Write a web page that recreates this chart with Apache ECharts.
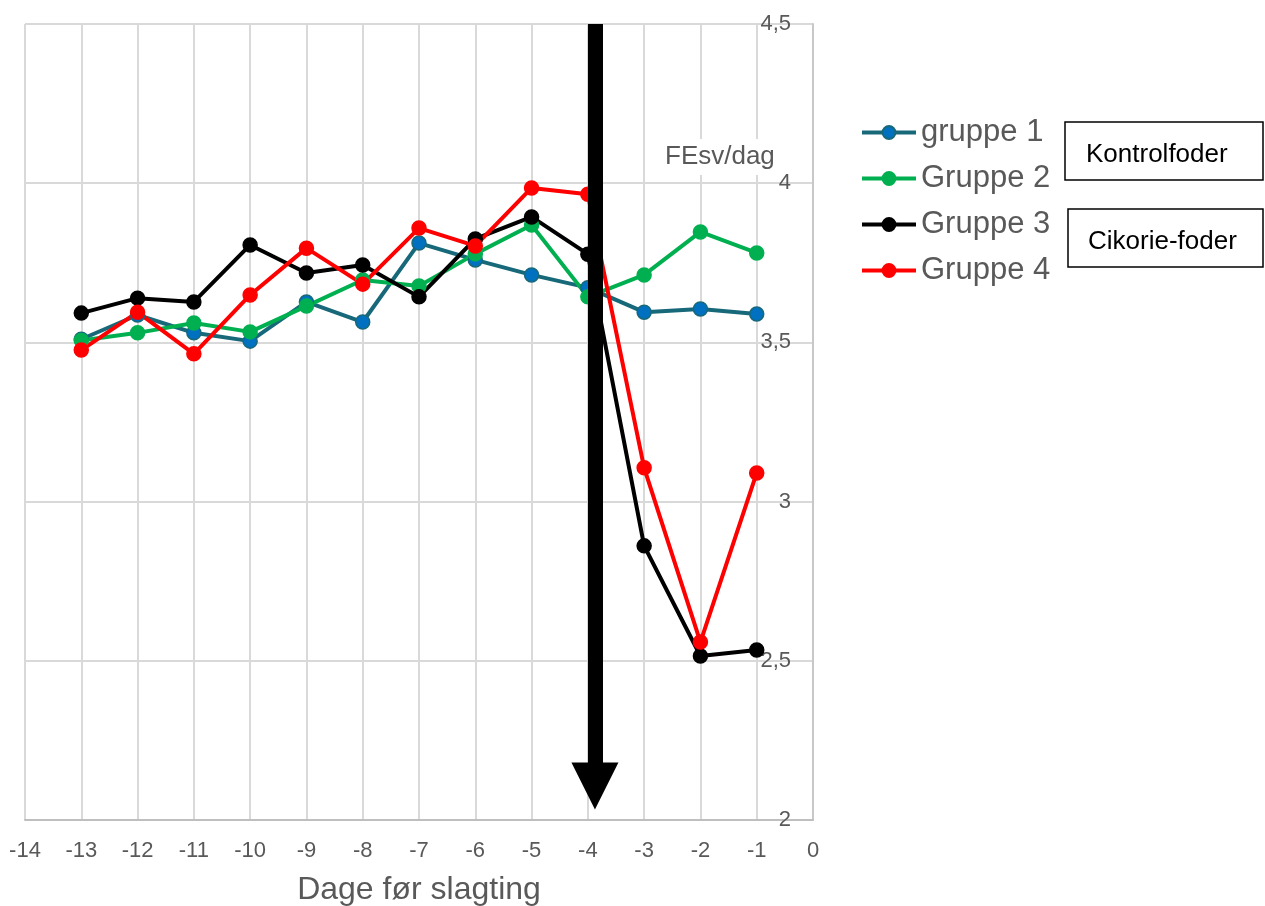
<!DOCTYPE html>
<html>
<head>
<meta charset="utf-8">
<script src="https://cdn.jsdelivr.net/npm/echarts@6/dist/echarts.min.js"></script>
<style>
html,body{margin:0;padding:0;background:#fff;}
#chart{width:1265px;height:906px;}
</style>
</head>
<body>
<div id="chart"></div>
<script>
var days = [-13, -12, -11, -10, -9, -8, -7, -6, -5, -4, -3, -2, -1];
var gruppe1 = [3.51, 3.586, 3.53, 3.504, 3.627, 3.564, 3.812, 3.759, 3.712, 3.672, 3.595, 3.605, 3.589];
var gruppe2 = [3.506, 3.53, 3.561, 3.533, 3.614, 3.696, 3.677, 3.778, 3.869, 3.643, 3.712, 3.847, 3.781];
var gruppe3 = [3.592, 3.639, 3.627, 3.806, 3.718, 3.743, 3.643, 3.825, 3.894, 3.777, 2.861, 2.515, 2.534];
var gruppe4 = [3.476, 3.595, 3.464, 3.649, 3.796, 3.683, 3.859, 3.803, 3.985, 3.965, 3.106, 2.559, 3.090];
var seriesNames = ['gruppe 1', 'Gruppe 2', 'Gruppe 3', 'Gruppe 4'];
var arrowX = -3.874;
var arrowTop = 4.5;
var arrowEnd = 2.107;

function pairs(vals) { return days.map(function (d, i) { return [d, vals[i]]; }); }

var FONT = 'Liberation Sans, Arial, sans-serif';
var chart = echarts.init(document.getElementById('chart'));

function lineSeries(name, vals, lineColor, fillColor, borderColor) {
  return {
    name: name, type: 'line', data: pairs(vals),
    symbol: 'circle', symbolSize: 14,
    lineStyle: { color: lineColor, width: 4 },
    itemStyle: { color: fillColor, borderColor: borderColor, borderWidth: 1.5 },
    emphasis: { disabled: true }, animation: false
  };
}

chart.setOption({
  animation: false,
  grid: { left: 25, right: 452, top: 24, bottom: 86, containLabel: false, outerBoundsMode: 'none' },
  xAxis: {
    type: 'value', min: -14, max: 0, interval: 1,
    name: 'Dage før slagting', nameLocation: 'middle', nameGap: 54,
    nameTextStyle: { fontSize: 32, color: '#595959', fontFamily: FONT },
    axisLine: { show: true, lineStyle: { color: '#BFBFBF', width: 2 } },
    axisTick: { show: false },
    axisLabel: { fontSize: 22, color: '#595959', fontFamily: FONT, margin: 20 },
    splitLine: { show: true, lineStyle: { color: '#D9D9D9', width: 2 } }
  },
  yAxis: {
    type: 'value', min: 2, max: 4.5, interval: 0.5, position: 'right',
    axisLine: { show: true, lineStyle: { color: '#C8C8C8', width: 2 } },
    axisTick: { show: false },
    axisLabel: {
      inside: true, margin: 22, fontSize: 22, color: '#595959', fontFamily: FONT,
      formatter: function (v) { return String(v).replace('.', ','); }
    },
    splitLine: { show: true, lineStyle: { color: '#D9D9D9', width: 2 } }
  },
  legend: {
    data: seriesNames, orient: 'vertical', left: 855, top: 112,
    itemWidth: 54, itemHeight: 16, itemGap: 15,
    lineStyle: { width: 4 },
    textStyle: { fontSize: 31, lineHeight: 30, color: '#595959', fontFamily: FONT },
    selectedMode: false
  },
  series: [
    lineSeries('gruppe 1', gruppe1, '#17697A', '#0070C0', '#17697A'),
    lineSeries('Gruppe 2', gruppe2, '#00B050', '#00B050', '#00B050'),
    lineSeries('Gruppe 3', gruppe3, '#000000', '#000000', '#000000'),
    lineSeries('Gruppe 4', gruppe4, '#FF0000', '#FF0000', '#FF0000'),
    {
      name: 'arrow', type: 'line', data: [], z: 10, silent: true,
      markLine: {
        silent: true, animation: false,
        symbol: ['none', 'triangle'], symbolSize: 47,
        label: { show: false },
        lineStyle: { color: '#000000', width: 15, type: 'solid' },
        emphasis: { disabled: true },
        data: [[{ coord: [arrowX, arrowTop] }, { coord: [arrowX, arrowEnd] }]]
      }
    }
  ],
  graphic: [
    {
      type: 'text', left: 663, top: 139, z: 20,
      style: { text: 'FEsv/dag', fontSize: 26, fill: '#595959', fontFamily: FONT,
        backgroundColor: '#fff', padding: [5, 2, 5, 2] }
    },
    {
      type: 'rect', z: 20,
      shape: { x: 1065, y: 122, width: 198, height: 58 },
      style: { fill: '#fff', stroke: '#000', lineWidth: 1.5 }
    },
    {
      type: 'text', z: 21, left: 1086, top: 142,
      style: { text: 'Kontrolfoder', fontSize: 26, fill: '#000', fontFamily: FONT }
    },
    {
      type: 'rect', z: 20,
      shape: { x: 1068, y: 209, width: 195, height: 58 },
      style: { fill: '#fff', stroke: '#000', lineWidth: 1.5 }
    },
    {
      type: 'text', z: 21, left: 1088, top: 229,
      style: { text: 'Cikorie-foder', fontSize: 26, fill: '#000', fontFamily: FONT }
    }
  ]
});
</script>
</body>
</html>
